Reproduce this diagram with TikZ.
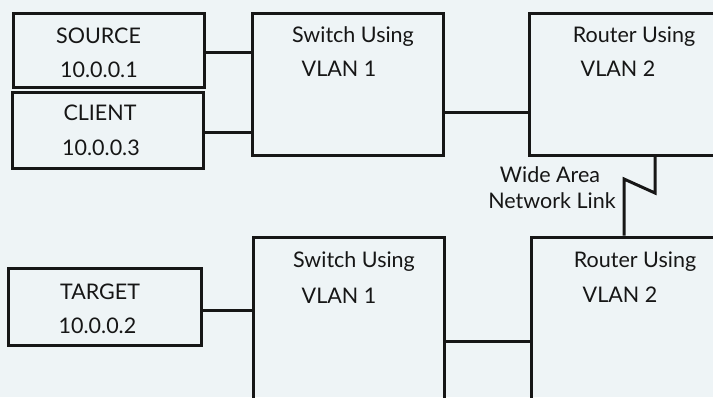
\documentclass[tikz,border=0pt]{standalone}
\usepackage{fontspec}
\setmainfont{Lato}
\definecolor{bg}{RGB}{238,244,246}
\definecolor{ink}{RGB}{22,22,22}
\begin{document}
\begin{tikzpicture}[x=1pt,y=-1pt,
  box/.style={draw=ink,line width=3pt,rectangle,inner sep=0pt},
  lbl/.style={anchor=base,inner sep=0pt,text=ink,font=\fontsize{21.5}{24}\selectfont},
  wire/.style={draw=ink,line width=3pt}]
\fill[bg] (0,0) rectangle (713,397);
\useasboundingbox (0,0) rectangle (713,397);
\clip (0,0) rectangle (713,397);
% boxes
\node[box,minimum width=191pt,minimum height=74pt] (src) at (108.5,50) {};
\node[box,minimum width=191pt,minimum height=76pt] (cli) at (108,130) {};
\node[box,minimum width=191pt,minimum height=142pt] (sw1) at (347.5,84) {};
\node[box,minimum width=230pt,minimum height=142pt] (r1) at (644,84) {};
\node[box,minimum width=193pt,minimum height=77pt] (tgt) at (104.5,306.5) {};
\node[box,minimum width=191pt,minimum height=183pt] (sw2) at (348.5,328.5) {};
\node[box,minimum width=229pt,minimum height=183pt] (r2) at (645.5,328.5) {};
% texts
\node[lbl] (t1) at (98.5,43) {SOURCE};
\node[lbl] (t2) at (99,77) {10.0.0.1};
\node[lbl] (t3) at (100,120) {CLIENT};
\node[lbl] (t4) at (101,155) {10.0.0.3};
\node[lbl] (t5) at (100,299) {TARGET};
\node[lbl] (t6) at (97.5,333) {10.0.0.2};
\node[lbl] (t7) at (353,42) {Switch Using};
\node[lbl] (t8) at (339,76) {VLAN 1};
\node[lbl] (t9) at (634,42) {Router Using};
\node[lbl] (t10) at (618,76) {VLAN 2};
\node[lbl] (t11) at (354,267) {Switch Using};
\node[lbl] (t12) at (339,303) {VLAN 1};
\node[lbl] (t13) at (635,267) {Router Using};
\node[lbl] (t14) at (620,302) {VLAN 2};
\node[lbl] (t15) at (550,182) {Wide Area};
\node[lbl] (t16) at (552,208) {Network Link};
% connectors
\draw[wire] ([yshift=-2pt]src.east) -- ([yshift=-2pt]src.east -| sw1.west);
\draw[wire] ([yshift=-2pt]cli.east) -- ([yshift=-2pt]cli.east -| sw1.west);
\draw[wire] ([yshift=-28pt]sw1.east) -- ([yshift=-28pt]sw1.east -| r1.west);
\draw[wire] ([yshift=-3.5pt]tgt.east) -- ([yshift=-3.5pt]tgt.east -| sw2.west);
\draw[wire] ([yshift=-12.5pt]sw2.east) -- ([yshift=-12.5pt]sw2.east -| r2.west);
\coordinate (wa) at (655,193);
\coordinate (wb) at (624,179);
\draw[wire,line join=miter] (r1.south -| wa) -- (wa) -- (wb) -- (wb |- r2.north);
\end{tikzpicture}
\end{document}
